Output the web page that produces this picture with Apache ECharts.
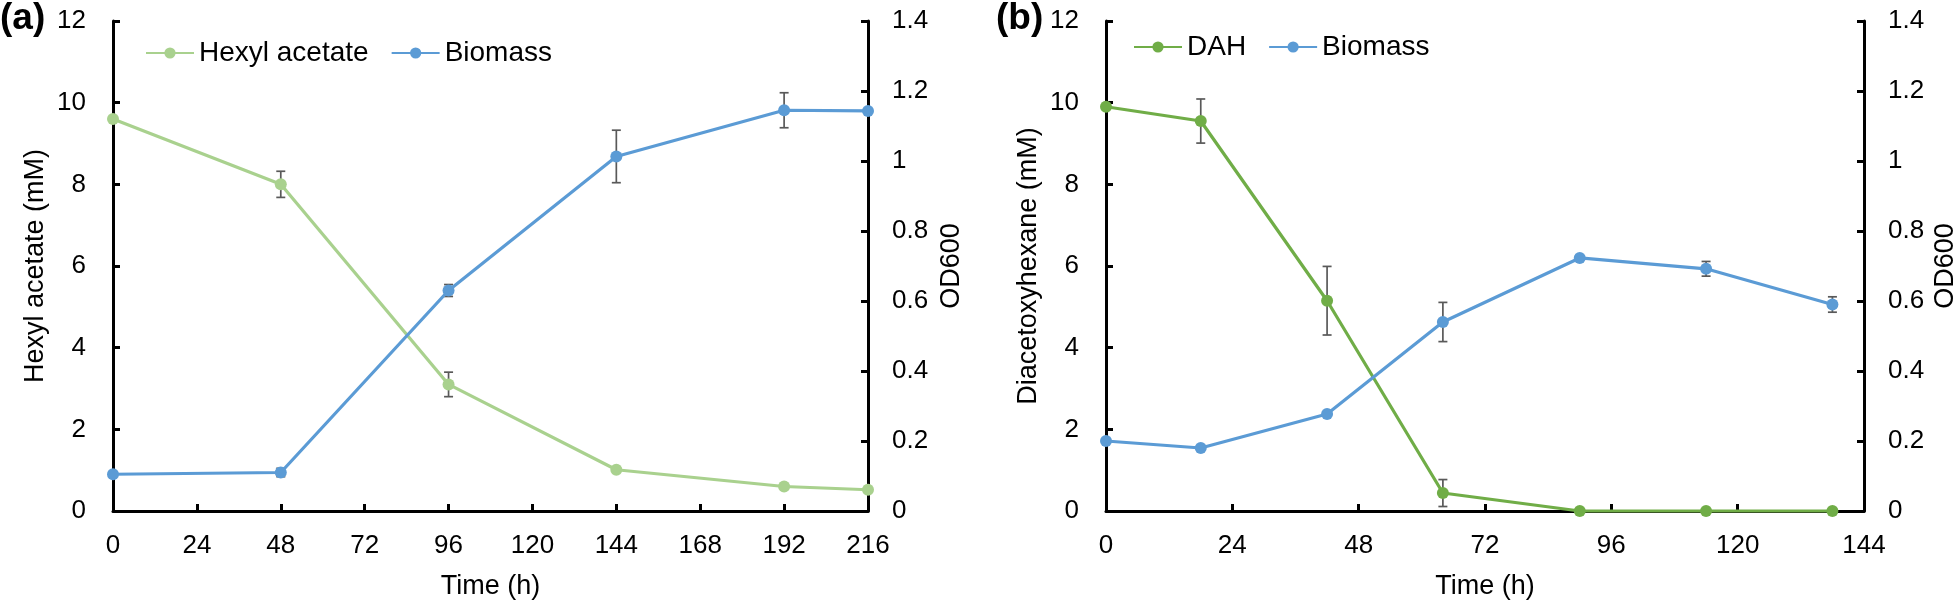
<!DOCTYPE html>
<html>
<head>
<meta charset="utf-8">
<script src="https://cdn.jsdelivr.net/npm/echarts@6/dist/echarts.min.js"></script>
<style>
html,body{margin:0;padding:0;background:#fff;}
#c{width:1960px;height:605px;}
</style>
</head>
<body>
<div id="c"></div>
<script>
// ---- data ----
const timeA = [0, 48, 96, 144, 192, 216];
const hexylAcetate = [9.6, 8.0, 3.1, 1.01, 0.6, 0.52];
const hexylAcetateErr = [0, 0.32, 0.3, 0, 0, 0];
const biomassA = [0.105, 0.11, 0.63, 1.013, 1.145, 1.143];
const biomassAErr = [0, 0.012, 0.017, 0.075, 0.05, 0];

const timeB = [0, 18, 42, 64, 90, 114, 138];
const dah = [9.9, 9.55, 5.15, 0.44, 0, 0, 0];
const dahErr = [0, 0.54, 0.84, 0.33, 0, 0, 0];
const biomassB = [0.2, 0.18, 0.277, 0.54, 0.723, 0.692, 0.59];
const biomassBErr = [0, 0, 0, 0.056, 0, 0.021, 0.022];

const xTicksA = {min: 0, max: 216, interval: 24};
const xTicksB = {min: 0, max: 144, interval: 24};
const yLeft = {min: 0, max: 12, interval: 2};
const yRight = {min: 0, max: 1.4, interval: 0.2};

// ---- styling ----
const FONT = '"Liberation Sans", Arial, sans-serif';
const LIGHT_GREEN = '#a9d18e';
const GREEN = '#70ad47';
const BLUE = '#5b9bd5';
const ERR = '#595959';

function pairs(xs, ys) { return xs.map((x, i) => [x, ys[i]]); }
function triples(xs, ys, es) {
  const out = [];
  xs.forEach((x, i) => { if (es[i] > 0) out.push([x, ys[i], es[i]]); });
  return out;
}

function errSeries(data, xi, yi) {
  return {
    type: 'custom', xAxisIndex: xi, yAxisIndex: yi, z: 1, silent: true,
    encode: {x: 0, y: 1},
    data: data,
    renderItem: function (params, api) {
      const x = api.value(0), y = api.value(1), e = api.value(2);
      const t = api.coord([x, y + e]);
      const b = api.coord([x, y - e]);
      const w = 4.5;
      const st = {stroke: ERR, lineWidth: 1.7};
      return {type: 'group', children: [
        {type: 'line', shape: {x1: t[0], y1: t[1], x2: b[0], y2: b[1]}, style: st},
        {type: 'line', shape: {x1: t[0] - w, y1: t[1], x2: t[0] + w, y2: t[1]}, style: st},
        {type: 'line', shape: {x1: b[0] - w, y1: b[1], x2: b[0] + w, y2: b[1]}, style: st}
      ]};
    }
  };
}

function lineSeries(name, data, color, xi, yi) {
  return {
    name: name, type: 'line', xAxisIndex: xi, yAxisIndex: yi, z: 2,
    data: data, symbol: 'circle', symbolSize: 12, clip: false,
    lineStyle: {color: color, width: 3.2},
    itemStyle: {color: color},
    emphasis: {disabled: true}
  };
}

const axisLine = {show: true, lineStyle: {color: '#000', width: 3}};
const axisTick = {show: true, inside: true, length: 7, lineStyle: {color: '#000', width: 3}};
const labelStyle = {color: '#000', fontFamily: FONT, fontSize: 26};
const nameStyle = {color: '#000', fontFamily: FONT, fontSize: 27};

function xAxis(gi, t) {
  return {
    type: 'value', gridIndex: gi, min: t.min, max: t.max, interval: t.interval,
    name: 'Time (h)', nameLocation: 'middle', nameGap: 62, nameTextStyle: nameStyle,
    axisLine: axisLine, axisTick: axisTick, splitLine: {show: false},
    axisLabel: Object.assign({margin: 22}, labelStyle)
  };
}
function yAxisL(gi, name, gap) {
  return {
    type: 'value', gridIndex: gi, position: 'left', min: yLeft.min, max: yLeft.max, interval: yLeft.interval,
    name: name, nameLocation: 'middle', nameRotate: 90, nameGap: gap, nameTextStyle: nameStyle,
    axisLine: axisLine, axisTick: axisTick, splitLine: {show: false},
    axisLabel: Object.assign({margin: 27}, labelStyle)
  };
}
function yAxisR(gi, gap) {
  return {
    type: 'value', gridIndex: gi, position: 'right', min: yRight.min, max: yRight.max, interval: yRight.interval,
    name: 'OD600', nameLocation: 'middle', nameRotate: 90, nameGap: gap, nameTextStyle: nameStyle,
    axisLine: axisLine, axisTick: axisTick, splitLine: {show: false},
    axisLabel: Object.assign({margin: 24}, labelStyle)
  };
}

const chart = echarts.init(document.getElementById('c'), null, {renderer: 'canvas'});
chart.setOption({
  animation: false,
  backgroundColor: '#fff',
  grid: [
    {left: 113, width: 755, top: 21, height: 491, containLabel: false},
    {left: 1106, width: 760, top: 21, height: 491, containLabel: false}
  ],
  xAxis: [xAxis(0, xTicksA), xAxis(1, xTicksB)],
  yAxis: [yAxisL(0, 'Hexyl acetate (mM)', 64), yAxisR(0, 70), yAxisL(1, 'Diacetoxyhexane (mM)', 64), yAxisR(1, 68)],
  legend: [
    {left: 140, top: 34, itemWidth: 48, itemHeight: 14, itemGap: 22,
     textStyle: {color: '#000', fontFamily: FONT, fontSize: 28}, data: ['Hexyl acetate', 'Biomass'], selectedMode: false},
    {left: 1128, top: 28, itemWidth: 48, itemHeight: 14, itemGap: 22,
     textStyle: {color: '#000', fontFamily: FONT, fontSize: 28}, data: ['DAH', 'Biomass'], selectedMode: false}
  ],
  graphic: [
    {type: 'text', left: 0, top: 0, style: {text: '(a)', font: 'bold 37px ' + FONT, fill: '#000'}},
    {type: 'text', left: 996, top: 0, style: {text: '(b)', font: 'bold 37px ' + FONT, fill: '#000'}}
  ],
  series: [
    errSeries(triples(timeA, hexylAcetate, hexylAcetateErr), 0, 0),
    errSeries(triples(timeA, biomassA, biomassAErr), 0, 1),
    lineSeries('Hexyl acetate', pairs(timeA, hexylAcetate), LIGHT_GREEN, 0, 0),
    lineSeries('Biomass', pairs(timeA, biomassA), BLUE, 0, 1),
    errSeries(triples(timeB, dah, dahErr), 1, 2),
    errSeries(triples(timeB, biomassB, biomassBErr), 1, 3),
    lineSeries('DAH', pairs(timeB, dah), GREEN, 1, 2),
    lineSeries('Biomass', pairs(timeB, biomassB), BLUE, 1, 3)
  ]
});
</script>
</body>
</html>
